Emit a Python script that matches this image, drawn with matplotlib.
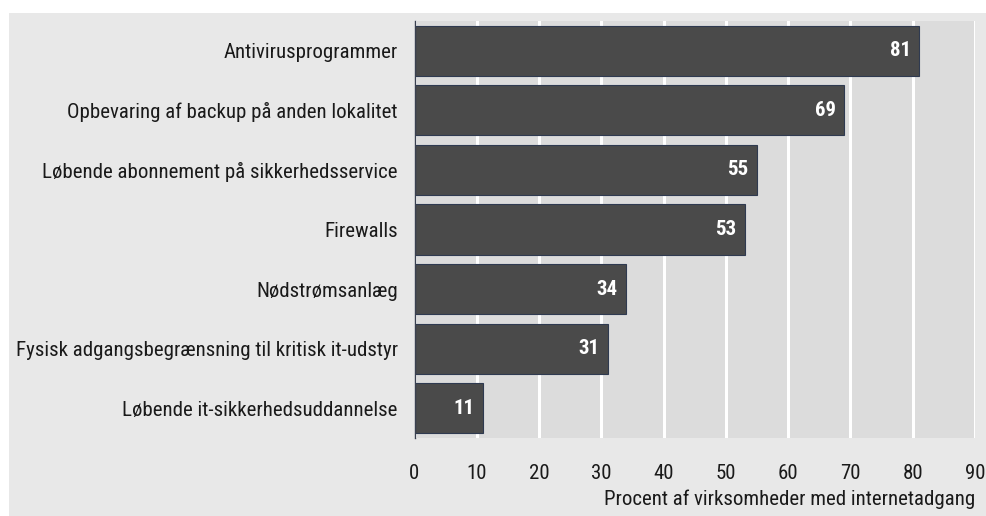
import matplotlib
matplotlib.use("Agg")
import matplotlib.pyplot as plt
from matplotlib.patches import Rectangle
from matplotlib import font_manager
from matplotlib.font_manager import FontProperties
import os

categories = [
    "Antivirusprogrammer",
    "Opbevaring af backup på anden lokalitet",
    "Løbende abonnement på sikkerhedsservice",
    "Firewalls",
    "Nødstrømsanlæg",
    "Fysisk adgangsbegrænsning til kritisk it-udstyr",
    "Løbende it-sikkerhedsuddannelse",
]
values = [81, 69, 55, 53, 34, 31, 11]
xticks = [0, 10, 20, 30, 40, 50, 60, 70, 80, 90]
xlabel = "Procent af virksomheder med internetadgang"

# find a condensed font file
reg_file, bold_file = None, None
prefs = ["LiberationSansNarrow", "RobotoCondensed", "OpenSansCondensed", "OpenSans_Condensed",
         "NotoSansCondensed", "NotoSans-Condensed", "DejaVuSansCondensed"]
files = [f.fname for f in font_manager.fontManager.ttflist]
allfiles = list(set(files + font_manager.findSystemFonts()))
for p in prefs:
    regs = [f for f in allfiles if p.lower() in os.path.basename(f).lower().replace("-", "").replace("_", "")
            or p.lower() in os.path.basename(f).lower()]
    if regs:
        r = [f for f in regs if "bold" not in f.lower() and "italic" not in f.lower()
             and "light" not in f.lower() and "semi" not in f.lower() and "medium" not in f.lower()
             and "thin" not in f.lower() and "black" not in f.lower() and "extra" not in f.lower()]
        b = [f for f in regs if "bold" in f.lower() and "italic" not in f.lower() and "oblique" not in f.lower()
             and "semi" not in f.lower() and "extra" not in f.lower()]
        if r:
            reg_file = sorted(r, key=len)[0]
            bold_file = sorted(b, key=len)[0] if b else reg_file
            break

fs = 15
if reg_file:
    fp = FontProperties(fname=reg_file, size=fs)
    fpb = FontProperties(fname=bold_file, size=fs)
else:
    fp = FontProperties(family="DejaVu Sans", size=12)
    fpb = FontProperties(family="DejaVu Sans", size=12, weight="bold")

W, H = 986, 516
fig = plt.figure(figsize=(W / 100, H / 100), dpi=100)
fig.patch.set_facecolor("white")
fig.add_artist(Rectangle((9 / W, 0), 1 - 9 / W, (H - 13) / H, transform=fig.transFigure,
                         facecolor="#e8e8e8", edgecolor="none", zorder=0))

left, right = 414.5 / W, 975 / W
bottom, top = (H - 438) / H, (H - 21) / H
ax = fig.add_axes([left, bottom, right - left, top - bottom])
ax.set_facecolor("#dcdcdc")

y = list(range(len(categories)))
ax.barh(y, values, height=0.84, color="#4a4a4a", edgecolor="#2f3a50",
        linewidth=0.8, zorder=3)
for yi, v in zip(y, values):
    ax.annotate(str(v), xy=(v, yi), xytext=(-6, 0), textcoords="offset points",
                ha="right", va="center", color="white", fontproperties=fpb, zorder=4)

ax.set_xlim(0, 90)
ax.set_ylim(len(categories) - 0.5, -0.5)
ax.set_xticks(xticks)
ax.set_xticklabels([str(t) for t in xticks], fontproperties=fp, color="#1a1a1a")
ax.set_yticks(y)
ax.set_yticklabels(categories, fontproperties=fp, color="#1a1a1a")
ax.tick_params(axis="x", length=0, pad=19)
ax.tick_params(axis="y", length=0, pad=12)
ax.grid(axis="x", color="white", linewidth=2.2, zorder=1)
ax.set_axisbelow(True)
for s in ["top", "right", "bottom"]:
    ax.spines[s].set_visible(False)
ax.spines["left"].set_color("#3a4050")
ax.spines["left"].set_linewidth(1.0)
ax.spines["left"].set_zorder(5)

fig.text(975 / W, (H - 499) / H, xlabel, ha="right", va="center",
         fontproperties=fp, color="#1a1a1a")

fig.savefig("out.png", dpi=100)
